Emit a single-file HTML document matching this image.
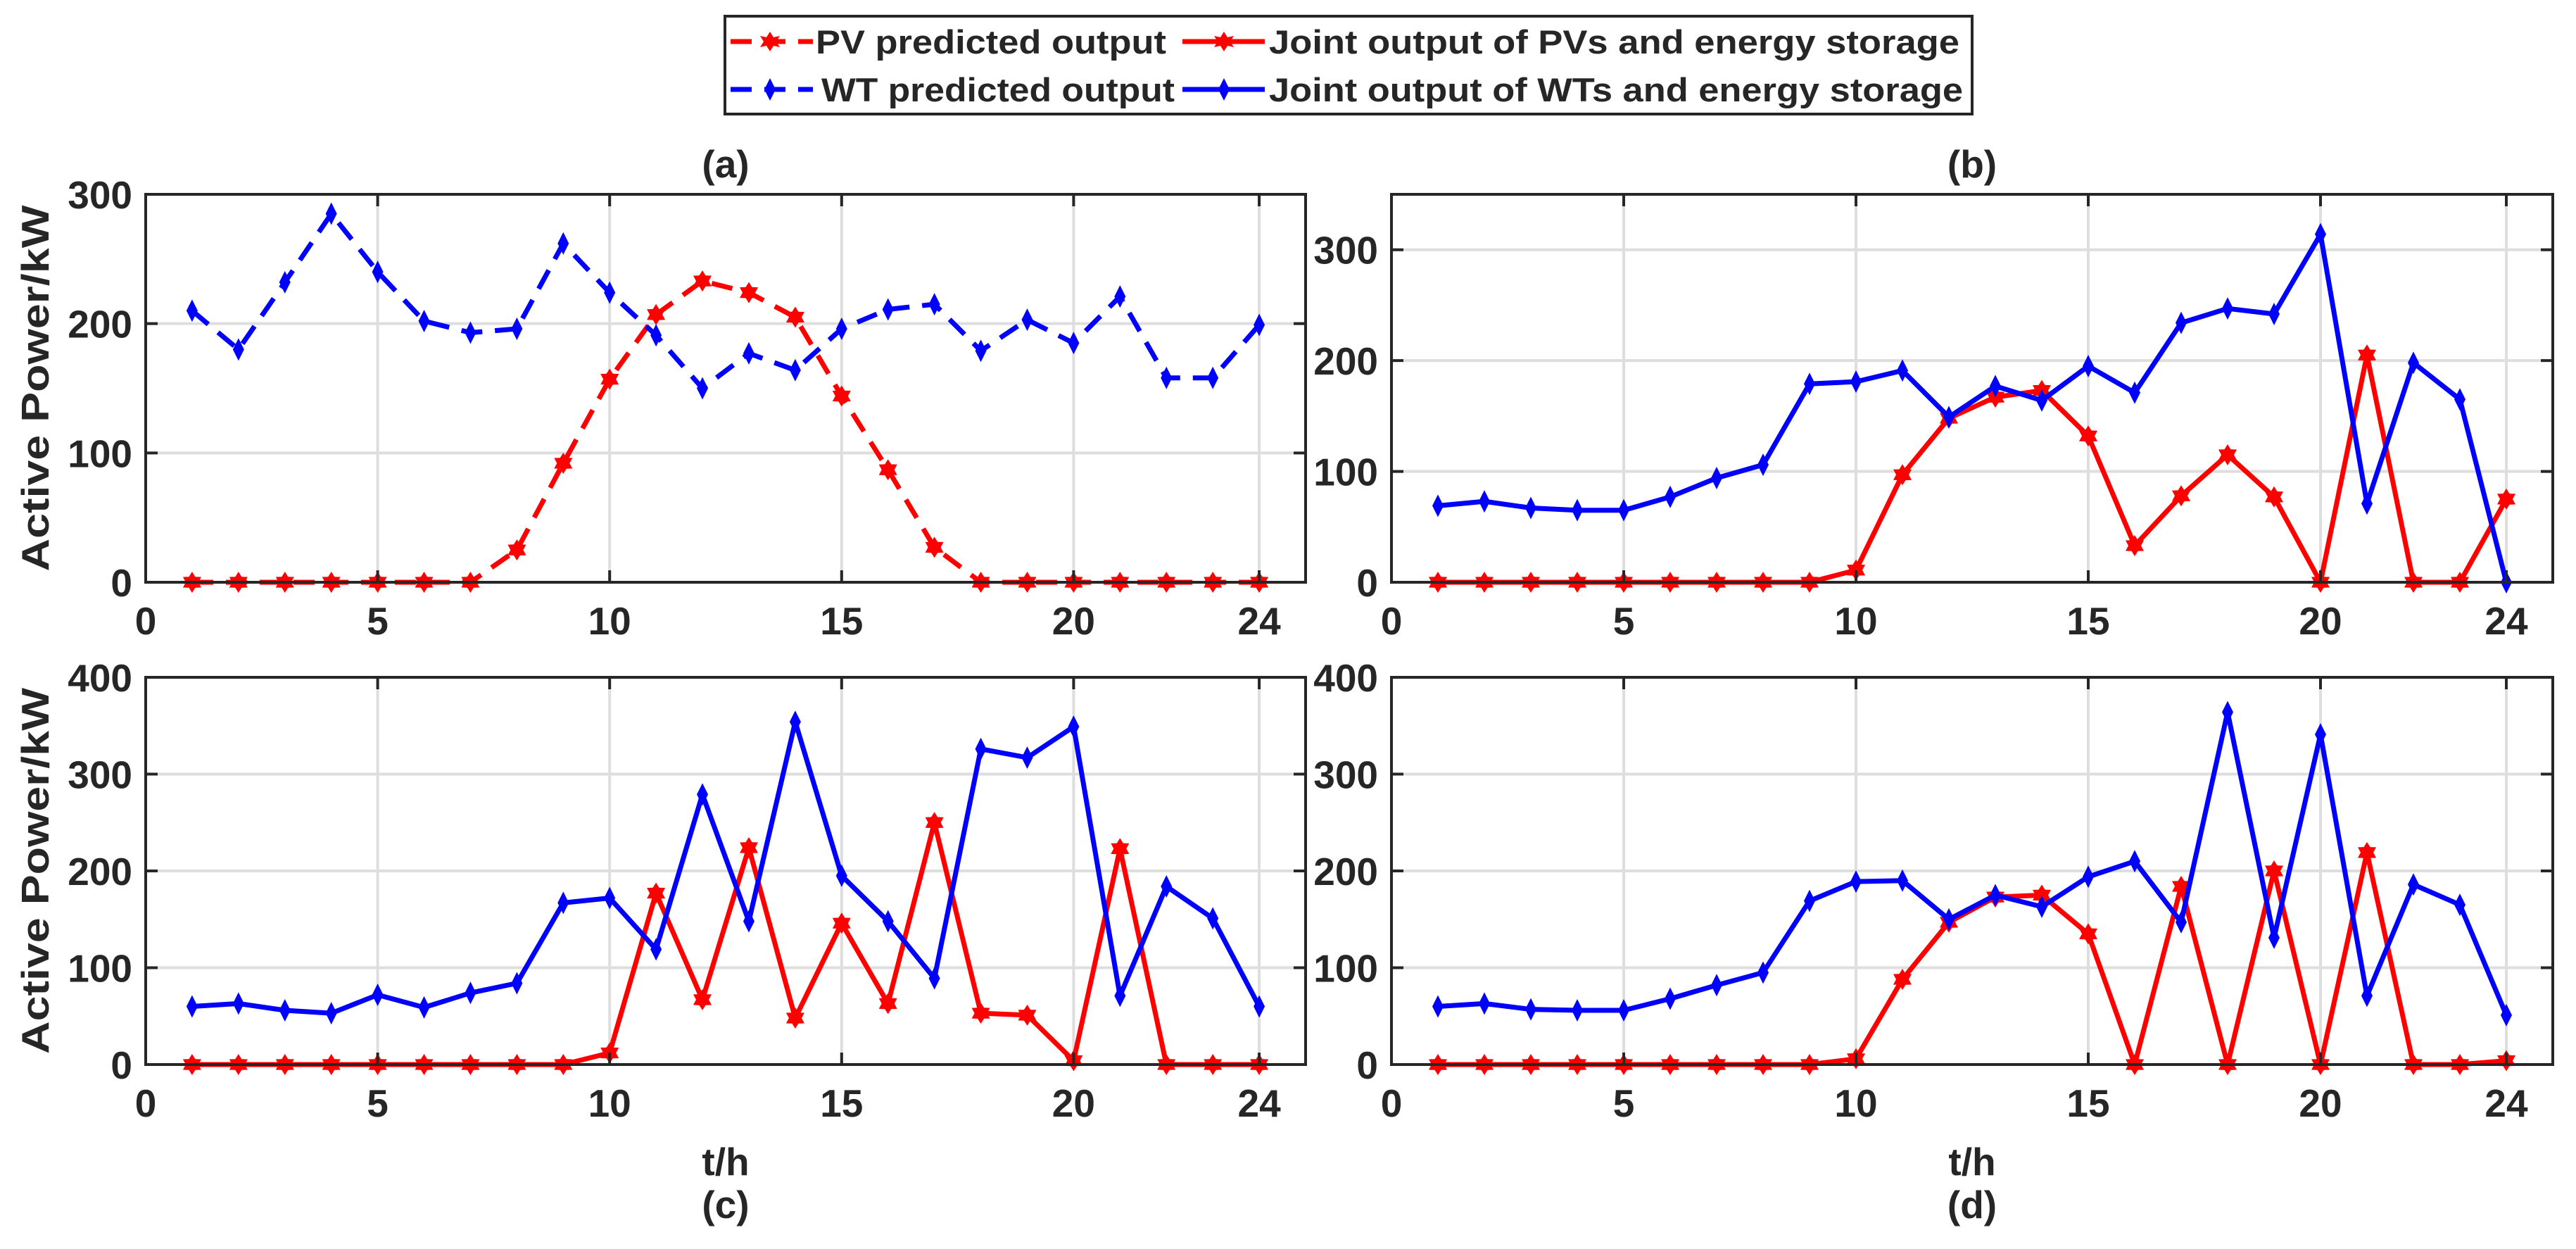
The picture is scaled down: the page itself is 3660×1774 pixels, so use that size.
<!DOCTYPE html>
<html><head><meta charset="utf-8"><style>
html,body{margin:0;padding:0;background:#fff}
svg{display:block}
text{font-family:"Liberation Sans",Arial,sans-serif;font-weight:bold;fill:#262626}
</style></head><body>
<svg id="fig" width="3660" height="1774" xmlns="http://www.w3.org/2000/svg">
<g>
<rect x="1030" y="23" width="1772" height="139" fill="#fff" stroke="#262626" stroke-width="4"/>
<g>
<line x1="1038" y1="59" x2="1155" y2="59" stroke="#f00" stroke-width="7" stroke-dasharray="30,18"/>
<path d="M1094 45 L1099 53 L1108 51 L1103 59 L1108 67 L1099 65 L1094 73 L1089 65 L1080 67 L1085 59 L1080 51 L1089 53Z" fill="#f00"/>
<text x="1159" y="76" font-size="47" textLength="498" lengthAdjust="spacingAndGlyphs" fill="#000">PV predicted output</text></g>
<g>
<line x1="1038" y1="127" x2="1155" y2="127" stroke="#00f" stroke-width="7" stroke-dasharray="30,18"/>
<path d="M1094 111 L1102 127 L1094 143 L1086 127Z" fill="#00f"/>
<text x="1167" y="144" font-size="47" textLength="502" lengthAdjust="spacingAndGlyphs" fill="#000">WT predicted output</text></g>
<g>
<line x1="1680" y1="59" x2="1797" y2="59" stroke="#f00" stroke-width="7"/>
<path d="M1739 45 L1744 53 L1753 51 L1748 59 L1753 67 L1744 65 L1739 73 L1734 65 L1725 67 L1730 59 L1725 51 L1734 53Z" fill="#f00"/>
<text x="1803" y="76" font-size="47" textLength="981" lengthAdjust="spacingAndGlyphs" fill="#000">Joint output of PVs and energy storage</text></g>
<g>
<line x1="1680" y1="127" x2="1797" y2="127" stroke="#00f" stroke-width="7"/>
<path d="M1739 111 L1747 127 L1739 143 L1731 127Z" fill="#00f"/>
<text x="1803" y="144" font-size="47" textLength="986" lengthAdjust="spacingAndGlyphs" fill="#000">Joint output of WTs and energy storage</text></g>
</g>
</svg>
<script>
const hours = [1,2,3,4,5,6,7,8,9,10,11,12,13,14,15,16,17,18,19,20,21,22,23,24];
const xTicks = [0,5,10,15,20,24];
const pvPredA = [0,0,0,0,0,0,0,25,92,157,207,233,224,205,144,87,27,0,0,0,0,0,0,0];
const wtPredA = [210,180,232,285,240,202,193,196,262,224,191,150,177,164,196,211,215,179,203,185,221,158,158,199];
const pvJointB = [0,0,0,0,0,0,0,0,0,11,97,148,167,173,132,33,78,115,77,0,205,0,0,75];
const wtJointB = [69,73,67,65,65,77,94,106,179,181,191,149,177,164,195,171,234,247,242,314,71,198,165,0];
const pvJointC = [0,0,0,0,0,0,0,0,0,12,177,67,224,48,146,63,250,53,51,4,223,0,0,0];
const wtJointC = [60,63,56,53,72,59,74,84,167,172,119,279,148,354,195,148,89,326,317,349,71,184,151,60];
const pvJointD = [0,0,0,0,0,0,0,0,0,6,88,147,173,175,135,0,184,0,200,0,219,0,0,4];
const wtJointD = [60,63,57,56,56,68,82,95,169,189,190,150,175,163,194,210,147,364,131,341,71,186,165,51];
const yTicksA = [0,100,200,300];
const yTicksB = [0,100,200,300];
const yTicksCD = [0,100,200,300,400];

const NS = 'http://www.w3.org/2000/svg';
const svg = document.getElementById('fig');
function el(tag, attrs, parent){const e=document.createElementNS(NS,tag);for(const k in attrs)e.setAttribute(k,attrs[k]);(parent||svg).appendChild(e);return e;}

const panels = [
 {id:'a',L:207,R:1855,T:276,B:827,ymax:300,yt:yTicksA,series:[{v:pvPredA,c:'#f00',dash:true,m:'star',n:'pv-predicted'},{v:wtPredA,c:'#00f',dash:true,m:'diamond',n:'wt-predicted'}],ylab:true,xlab:false},
 {id:'b',L:1977,R:3627,T:276,B:827,ymax:350,yt:yTicksB,series:[{v:pvJointB,c:'#f00',m:'star',n:'pv-joint'},{v:wtJointB,c:'#00f',m:'diamond',n:'wt-joint'}],ylab:false,xlab:false},
 {id:'c',L:207,R:1855,T:962,B:1512,ymax:400,yt:yTicksCD,series:[{v:pvJointC,c:'#f00',m:'star',n:'pv-joint'},{v:wtJointC,c:'#00f',m:'diamond',n:'wt-joint'}],ylab:true,xlab:true},
 {id:'d',L:1977,R:3627,T:962,B:1512,ymax:400,yt:yTicksCD,series:[{v:pvJointD,c:'#f00',m:'star',n:'pv-joint'},{v:wtJointD,c:'#00f',m:'diamond',n:'wt-joint'}],ylab:false,xlab:true}
];

function starPath(x,y){let d='';for(let i=0;i<12;i++){const r=i%2?9:15;const a=-Math.PI/2+i*Math.PI/6;d+=(i?'L':'M')+(x+r*Math.cos(a)).toFixed(1)+' '+(y+r*Math.sin(a)).toFixed(1);}return d+'Z';}
function diamondPath(x,y){return `M${x} ${y-16}L${x+8} ${y}L${x} ${y+16}L${x-8} ${y}Z`;}

panels.forEach(p=>{
 const g=el('g',{});
 
 
 const xs=v=>p.L+(v/25)*(p.R-p.L);
 const ys=v=>p.B-(v/p.ymax)*(p.B-p.T);
 // grid
 xTicks.forEach(t=>{ if(t===0)return;
  const gl=el('line',{x1:xs(t),x2:xs(t),y1:p.T,y2:p.B,stroke:'#dedede','stroke-width':4},g);
  
  
 });
 p.yt.forEach(t=>{ if(t===0)return;
  const gl=el('line',{x1:p.L,x2:p.R,y1:ys(t),y2:ys(t),stroke:'#dedede','stroke-width':4},g);
  
  
 });
 // series
 p.series.forEach(s=>{
  const pts=hours.map((h,i)=>xs(h).toFixed(1)+','+ys(s.v[i]).toFixed(1)).join(' ');
  const pl=el('polyline',{points:pts,fill:'none',stroke:s.c,'stroke-width':7,'stroke-linejoin':'round'},g);
  if(s.dash)pl.setAttribute('stroke-dasharray','30,18');
  
  
  hours.forEach((h,i)=>{
   const mk=el('path',{d:s.m==='star'?starPath(xs(h),ys(s.v[i])):diamondPath(xs(h),ys(s.v[i])),fill:s.c},g);
   
   
  });
 });
 // axes box
 const bx=el('rect',{x:p.L,y:p.T,width:p.R-p.L,height:p.B-p.T,fill:'none',stroke:'#262626','stroke-width':4},g);
 
 
 // ticks & labels
 xTicks.forEach(t=>{
  el('line',{x1:xs(t),x2:xs(t),y1:p.B,y2:p.B-17,stroke:'#262626','stroke-width':4},g);
  el('line',{x1:xs(t),x2:xs(t),y1:p.T,y2:p.T+17,stroke:'#262626','stroke-width':4},g);
  const tl=el('text',{x:xs(t),y:p.B+74,'font-size':55,'text-anchor':'middle'},g);
  tl.textContent=t;
  
  
 });
 p.yt.forEach(t=>{
  el('line',{x1:p.L,x2:p.L+17,y1:ys(t),y2:ys(t),stroke:'#262626','stroke-width':4},g);
  el('line',{x1:p.R,x2:p.R-17,y1:ys(t),y2:ys(t),stroke:'#262626','stroke-width':4},g);
  const tl=el('text',{x:p.L-19,y:ys(t)+20,'font-size':55,'text-anchor':'end'},g);
  tl.textContent=t;
  
  
 });
 const cx=(p.L+p.R)/2;
 if(!p.xlab){
  const ti=el('text',{x:cx,y:252,'font-size':55,'text-anchor':'middle',fill:'#000'},g);
  ti.textContent='('+p.id+')';
  
  
 } else {
  const xl=el('text',{x:cx,y:1669,'font-size':55,'text-anchor':'middle',fill:'#000'},g);
  xl.textContent='t/h';
  
  
  const ti=el('text',{x:cx,y:1730,'font-size':55,'text-anchor':'middle',fill:'#000'},g);
  ti.textContent='('+p.id+')';
  
  
 }
 if(p.ylab){
  const cy=(p.T+p.B)/2;
  const yl=el('text',{x:0,y:0,'font-size':55,'text-anchor':'middle',textLength:520,lengthAdjust:'spacingAndGlyphs',transform:`translate(69 ${cy}) rotate(-90)`},g);
  yl.textContent='Active Power/kW';
  
  
 }
});
</script>
</body></html>
